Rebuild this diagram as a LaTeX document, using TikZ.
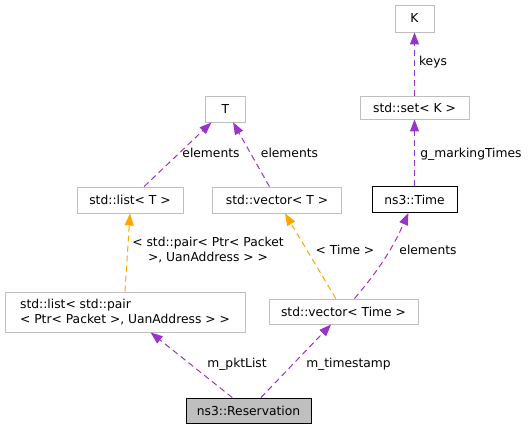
\documentclass[tikz,border=0pt]{standalone}
\usepackage{fontspec}
\setmainfont{DejaVu Sans}
\usetikzlibrary{arrows.meta}
\definecolor{edgepurple}{HTML}{9A32CD}
\definecolor{edgeorange}{HTML}{FFA500}
\definecolor{boxgray}{HTML}{BFBFBF}
\begin{document}
\begin{tikzpicture}[x=1bp,y=-1bp,
  font=\fontsize{12.3bp}{15bp}\selectfont,
  box/.style={draw=boxgray,line width=0.9bp,fill=white,inner sep=0pt,anchor=center},
  blackbox/.style={box,draw=black},
  mainbox/.style={box,draw=black,fill=boxgray},
  usage/.style={draw=edgepurple,line width=1bp,dash pattern=on 6bp off 4bp,-{Triangle[length=12bp,width=9bp]}},
  tmpl/.style={draw=edgeorange,line width=1bp,dash pattern=on 6bp off 4bp,-{Triangle[length=12bp,width=9bp]}},
  lbl/.style={inner sep=0pt,anchor=center}]
\useasboundingbox (0,0) rectangle (529,429);
\node[box,minimum width=39bp,minimum height=27bp] (K) at (414.5,18.5) {K};
\node[box,minimum width=109bp,minimum height=23bp] (set) at (414.5,107.5) {std::set< K >};
\node[blackbox,minimum width=85bp,minimum height=26bp] (time) at (414.5,199.5) {ns3::Time};
\node[box,minimum width=40bp,minimum height=26bp] (T) at (225.5,109) {T};
\node[box,minimum width=106bp,minimum height=26bp] (listT) at (130,200) {std::list< T >};
\node[box,minimum width=129bp,minimum height=26bp] (vecT) at (277,200) {std::vector< T >};
\node[box,minimum width=240bp,minimum height=40bp,align=left] (lp) at (125,312) {std::list< std::pair\\< Ptr< Packet >, UanAddress > >};
\node[box,minimum width=149bp,minimum height=25bp] (vt) at (343.5,311.5) {std::vector< Time >};
\node[mainbox,minimum width=125bp,minimum height=25bp] (res) at (248.5,410.5) {ns3::Reservation};

\draw[usage] (set) -- (K);
\node[lbl] (lkeys) at (433,62) {keys};
\draw[usage] (time) -- (set);
\node[lbl] (lgm) at (471,154) {g\_markingTimes};
\draw[usage] (listT) -- (T);
\node[lbl] (le1) at (211,153) {elements};
\draw[usage] (vecT) -- (T);
\node[lbl] (le2) at (289.5,153) {elements};
\draw[tmpl] (lp.north) -- (listT.south);
\node[lbl,align=center] (lpair) at (208,250.5) {< std::pair< Ptr< Packet\\>, UanAddress > >};
\draw[tmpl] (vt) -- (vecT);
\node[lbl] (ltime) at (345,250) {< Time >};
\draw[usage] (vt) to[bend right=8] (time);
\node[lbl] (le3) at (428,250) {elements};
\draw[usage] (res) -- (lp);
\node[lbl] (lpkt) at (237,364) {m\_pktList};
\draw[usage] (res) -- (vt);
\node[lbl] (lts) at (348.5,364) {m\_timestamp};
\end{tikzpicture}
\end{document}
